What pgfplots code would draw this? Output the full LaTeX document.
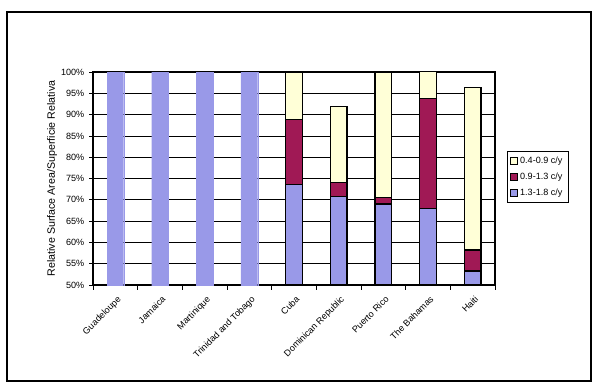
\documentclass[border=0pt]{standalone}
\usepackage{fontspec}
\setmainfont{Liberation Sans}
\usepackage{pgfplots}
\pgfplotsset{compat=1.18}
\definecolor{cblue}{RGB}{153,153,232}
\definecolor{cred}{RGB}{160,25,85}
\definecolor{cyel}{RGB}{255,255,215}
\newcommand{\fs}{\fontsize{6.8}{8}\selectfont}
\newcommand{\fl}{\fontsize{8}{9.5}\selectfont}

\begin{document}
\begin{tikzpicture}
\useasboundingbox (0,0) rectangle (450pt,292.5pt);
\fill[white] (0,0) rectangle (450pt,292.5pt);
\draw[line width=0.8pt] (5.25pt,6.75pt) rectangle (443.25pt,283.5pt);
\begin{axis}[
  at={(69.75pt,78.75pt)}, anchor=south west,
  scale only axis, width=301.5pt, height=159.75pt,
  ybar stacked, bar width=12.5pt,
  xmin=-0.5, xmax=8.5, ymin=50, ymax=100,
  xtick={0,...,8},
  xticklabels={Guadeloupe,Jamaica,Martinique,Trinidad and Tobago,Cuba,Dominican Republic,Puerto Rico,The Bahamas,Haiti},
  xtick style={draw=none},
  extra x ticks={-0.5,0.5,...,8.5},
  extra x tick labels={},
  extra x tick style={xtick style={draw=black,line width=0.6pt}, major tick length=3.5pt},
  major tick length=3pt,
  x tick label style={rotate=45,anchor=north east,font=\fs,inner sep=1pt,xshift=-1.5pt,yshift=-3pt},
  ytick={50,55,...,100},
  yticklabels={50\%,55\%,60\%,65\%,70\%,75\%,80\%,85\%,90\%,95\%,100\%},
  y tick label style={font=\fs},
  ytick style={black, line width=0.6pt},
  tick align=outside, tick pos=left,
  ymajorgrids=true, major grid style={draw=black, line width=0.6pt},
  axis line style={line width=0.8pt},
  ylabel={Relative Surface Area/Superficie Relativa},
  y label style={at={(axis description cs:-0.102,0.5)},anchor=center,font=\fl},
  legend style={at={(1.03,0.629)},anchor=north west,font=\fs,draw=black,line width=0.5pt,row sep=1.5pt,inner sep=2pt},
  legend cell align=left,
  reverse legend,
  legend image code/.code={\draw[#1,draw=black,line width=0.6pt] (0pt,-2.5pt) rectangle (5pt,2.5pt);},
]
\addplot[fill=cblue, draw=black, line width=0.9pt] coordinates {(0,0)(1,0)(2,0)(3,0)(4,73.6)(5,70.8)(6,69.0)(7,67.9)(8,53.3)};
\addplot[fill=cred, draw=black, line width=0.9pt] coordinates {(0,0)(1,0)(2,0)(3,0)(4,15.2)(5,3.3)(6,1.5)(7,25.9)(8,4.9)};
\addplot[fill=cyel, draw=black, line width=0.9pt] coordinates {(0,0)(1,0)(2,0)(3,0)(4,11.2)(5,17.8)(6,29.5)(7,6.4)(8,38.2)};
\addplot[fill=cblue, draw=cblue, line width=0.2pt, forget plot] coordinates {(0,100)(1,100)(2,100)(3,100)(4,0)(5,0)(6,0)(7,0)(8,0)};
\legend{1.3-1.8 c/y,0.9-1.3 c/y,0.4-0.9 c/y}
\end{axis}
\end{tikzpicture}
\end{document}
